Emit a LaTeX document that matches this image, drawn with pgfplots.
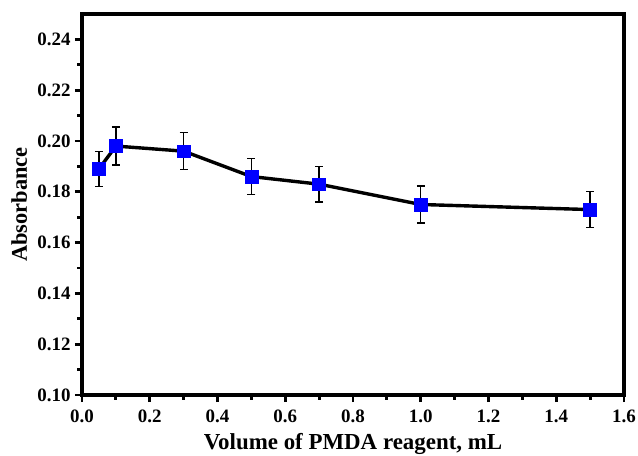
\documentclass[border=0pt]{standalone}
\usepackage{fontspec}
\setmainfont{Liberation Serif}
\usepackage{pgfplots}
\pgfplotsset{compat=1.18}
\begin{document}
\begin{tikzpicture}[x=1bp,y=1bp]
\useasboundingbox (0,0) rectangle (638bp,456bp);
\begin{axis}[
  at={(82bp,61bp)}, anchor=south west,
  scale only axis,
  width=542bp, height=381bp,
  xmin=0, xmax=1.6, ymin=0.10, ymax=0.25,
  xtick={0,0.2,0.4,0.6,0.8,1.0,1.2,1.4,1.6},
  xticklabels={0.0,0.2,0.4,0.6,0.8,1.0,1.2,1.4,1.6},
  ytick={0.10,0.12,0.14,0.16,0.18,0.20,0.22,0.24},
  yticklabels={0.10,0.12,0.14,0.16,0.18,0.20,0.22,0.24},
  minor x tick num=1, minor y tick num=1,
  axis line style={line width=3.2bp},
  tick style={line width=2.8bp,black},
  major tick length=7bp, minor tick length=4.5bp,
  tick align=outside,
  xtick pos=bottom, ytick pos=left,
  xticklabel style={font=\fontsize{19}{21}\selectfont\bfseries, yshift=-4bp},
  yticklabel style={font=\fontsize{19}{21}\selectfont\bfseries, xshift=-1bp},
  xlabel={\fontsize{23}{26}\selectfont\bfseries Volume of PMDA reagent, mL},
  ylabel={\fontsize{22.5}{26}\selectfont\bfseries Absorbance},
  xlabel style={at={(rel axis cs:0.5,0)}, anchor=base, yshift=-54bp},
  ylabel style={at={(rel axis cs:0,0.5)}, anchor=base, yshift=55bp},
  clip=false,
]
\addplot[black, line width=3.4bp, mark=square*, mark size=6.4bp,
  mark options={fill=blue, draw=blue, line width=0.5bp},
  error bars/.cd, y dir=both, y explicit,
  error bar style={black, line width=1.3bp},
  error mark options={rotate=90, mark size=4bp, black, line width=1.3bp}]
coordinates {
  (0.05,0.189) +- (0,0.0068)
  (0.1,0.198) +- (0,0.0075)
  (0.3,0.196) +- (0,0.0073)
  (0.5,0.186) +- (0,0.0071)
  (0.7,0.183) +- (0,0.0070)
  (1.0,0.175) +- (0,0.0073)
  (1.5,0.173) +- (0,0.0070)
};
\end{axis}
\end{tikzpicture}
\end{document}
